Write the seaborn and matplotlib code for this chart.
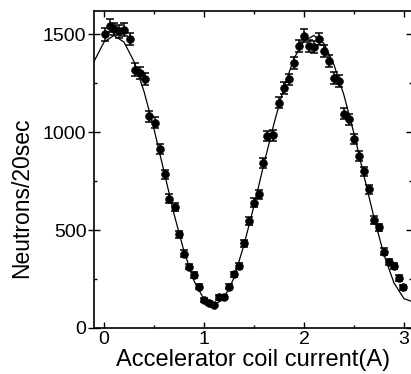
import numpy as np
import pandas as pd
import matplotlib
matplotlib.use('Agg')
import matplotlib.pyplot as plt
import seaborn as sns
from matplotlib.ticker import MultipleLocator

# measured points (coil current in A, counts per 20 s, error bar)
current = [0.01, 0.06, 0.10, 0.15, 0.20, 0.26, 0.31, 0.36, 0.41, 0.45, 0.51, 0.56, 0.61,
           0.65, 0.71, 0.75, 0.80, 0.85, 0.90, 0.95, 1.00, 1.05, 1.10, 1.15, 1.20, 1.25, 1.30,
           1.35, 1.40, 1.45, 1.50, 1.55, 1.59, 1.63, 1.69, 1.75, 1.80, 1.85, 1.90, 1.95,
           2.00, 2.05, 2.10, 2.15, 2.20, 2.25, 2.30, 2.35, 2.40, 2.45, 2.50, 2.55, 2.60,
           2.65, 2.70, 2.75, 2.80, 2.85, 2.90, 2.95, 2.99]
counts = [1500, 1545, 1528, 1516, 1525, 1477, 1321, 1304, 1273, 1083, 1049, 916, 785,
          661, 620, 479, 380, 314, 270, 212, 143, 126, 117, 156, 160, 212, 274,
          317, 434, 548, 641, 683, 845, 981, 984, 1151, 1227, 1270, 1355, 1440,
          1494, 1440, 1436, 1477, 1416, 1365, 1278, 1262, 1095, 1066, 964, 879, 800,
          709, 551, 514, 390, 339, 316, 255, 208]
errors = [33, 33, 33, 33, 33, 33, 31, 31, 30, 28, 28, 26, 24,
          22, 21, 19, 17, 15, 14, 12, 10, 10, 9, 11, 11, 12, 14,
          15, 18, 20, 22, 22, 25, 27, 27, 29, 30, 30, 31, 32,
          33, 32, 32, 33, 32, 31, 30, 30, 28, 28, 26, 25, 24,
          23, 20, 19, 17, 16, 15, 14, 12]

# fitted curve
fit_x = [-0.1, 0.0, 0.1, 0.2, 0.3, 0.4, 0.5, 0.6, 0.7, 0.8, 0.9, 1.0, 1.1, 1.2, 1.3,
         1.4, 1.5, 1.6, 1.7, 1.8, 1.9, 2.0, 2.1, 2.2, 2.3, 2.4, 2.5, 2.6, 2.7, 2.8,
         2.9, 3.0, 3.1]
fit_y = [1362, 1461, 1495, 1461, 1362, 1209, 1017, 800, 583, 392, 241, 146, 115, 152, 256,
         425, 625, 840, 1045, 1230, 1378, 1467, 1495, 1454, 1345, 1189, 994, 777, 564, 374,
         230, 150, 132]

df = pd.DataFrame({'current': current, 'counts': counts, 'err': errors})
fit = pd.DataFrame({'current': fit_x, 'counts': fit_y})

sns.set_style('ticks', {'axes.edgecolor': 'black', 'text.color': 'black',
                        'xtick.color': 'black', 'ytick.color': 'black',
                        'axes.labelcolor': 'black'})
plt.rcParams['font.family'] = ['Liberation Sans', 'DejaVu Sans']

fig = plt.figure(figsize=(4.11, 3.74), dpi=100)
ax = fig.add_axes([94 / 411, 1 - 328 / 374, 318 / 411, 317 / 374])

sns.lineplot(data=fit, x='current', y='counts', color='black', linewidth=0.9, ax=ax)
ax.errorbar(df['current'], df['counts'], yerr=df['err'], fmt='none', ecolor='black',
            elinewidth=1.1, capsize=3, capthick=1.1)
sns.scatterplot(data=df, x='current', y='counts', color='black', s=32, edgecolor='black',
                linewidth=0.4, zorder=3, ax=ax)

ax.set_xlim(-0.1, 3.08)
ax.set_ylim(0, 1620)
ax.xaxis.set_major_locator(MultipleLocator(1))
ax.xaxis.set_minor_locator(MultipleLocator(0.5))
ax.yaxis.set_major_locator(MultipleLocator(500))
ax.yaxis.set_minor_locator(MultipleLocator(250))

ax.tick_params(axis='x', which='major', direction='in', length=4.5, width=1,
               top=True, labelsize=14, pad=2)
ax.tick_params(axis='x', which='minor', direction='in', length=2.5, width=1, top=True)
ax.tick_params(axis='y', which='major', direction='inout', length=9, width=1,
               right=True, labelsize=14, pad=1)
ax.tick_params(axis='y', which='minor', direction='in', length=2.5, width=1, right=True)
for s in ax.spines.values():
    s.set_linewidth(1.2)
    s.set_visible(True)

ax.set_xlabel('Accelerator coil current(A)', fontsize=17, labelpad=1)
ax.set_ylabel('Neutrons/20sec', fontsize=16.5)
ax.yaxis.set_label_coords(-0.19, 0.41)

fig.savefig('out.png', dpi=100)
